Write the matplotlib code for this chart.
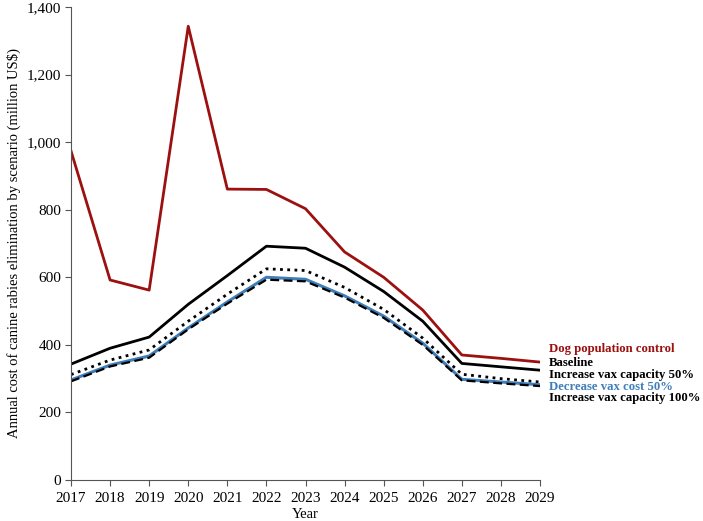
import numpy as np
import matplotlib.pyplot as plt

plt.rcParams['font.family'] = ['Liberation Serif', 'DejaVu Serif']

years = np.arange(2017, 2030)
dog_control = [974, 592, 562, 1343, 861, 860, 803, 675, 600, 503, 370, 360, 349]
baseline = [343, 390, 423, 520, 605, 692, 686, 630, 558, 470, 345, 335, 325]
vax_cap_50 = [312, 355, 385, 470, 550, 625, 620, 570, 505, 420, 313, 300, 290]
vax_cost_50 = [296, 340, 367, 450, 527, 600, 594, 545, 485, 405, 298, 290, 282]
vax_cap_100 = [292, 336, 362, 446, 522, 593, 588, 540, 480, 400, 295, 286, 278]

red = '#9C1010'
blue = '#3F7EB9'

fig = plt.figure(figsize=(7.03, 5.21), dpi=100)
ax = fig.add_axes([71 / 703, 41 / 521, 469 / 703, 473 / 521])

ax.plot(years, dog_control, color=red, lw=2.0)
ax.plot(years, baseline, color='black', lw=2.0)
ax.plot(years, vax_cap_50, color='black', lw=2.0, linestyle=(0, (1, 1.6)))
ax.plot(years, vax_cost_50, color=blue, lw=2.2)
ax.plot(years, vax_cap_100, color='black', lw=1.6, linestyle=(0, (4, 2)))

ax.set_xlim(2017, 2029)
ax.set_ylim(0, 1400)
ax.set_xticks(years)
ax.set_yticks(np.arange(0, 1401, 200))
ax.set_yticklabels([f'{v:,}' for v in range(0, 1401, 200)])
ax.tick_params(labelsize=11, direction='out', length=4, color='#555555', pad=3)
ax.tick_params(axis='x', pad=5)
ax.spines['top'].set_visible(False)
ax.spines['right'].set_visible(False)
ax.spines['left'].set_color('#555555')
ax.spines['bottom'].set_color('#555555')

ax.set_xlabel('Year', fontsize=10.5, labelpad=2)
ax.set_ylabel('Annual cost of canine rabies elimination by scenario (million US$)', fontsize=10.5, labelpad=4)

labels = [
    ('Dog population control', red, 388),
    ('Baseline', 'black', 346),
    ('Increase vax capacity 50%', 'black', 311),
    ('Decrease vax cost 50%', blue, 276),
    ('Increase vax capacity 100%', 'black', 243),
]
for txt, col, yv in labels:
    ax.text(2029.22, yv, txt, color=col, fontsize=9.2, fontweight='bold',
            va='center', ha='left', clip_on=False)

fig.savefig('out.png', dpi=100)
